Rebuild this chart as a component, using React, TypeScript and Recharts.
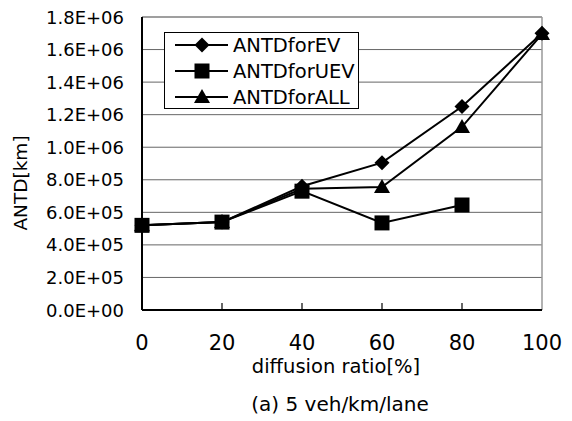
import { LineChart, Line, XAxis, YAxis, CartesianGrid, ReferenceLine } from "recharts";

const ratios = [0, 20, 40, 60, 80, 100];
const antdEV = [520000, 540000, 760000, 905000, 1250000, 1700000];
const antdUEV = [520000, 540000, 730000, 535000, 645000, null];
const antdALL = [520000, 540000, 745000, 755000, 1125000, 1695000];
const yTicks = [0, 200000, 400000, 600000, 800000, 1000000, 1200000, 1400000, 1600000, 1800000];
const xTicks = [0, 20, 40, 60, 80, 100];

const data = ratios.map((r, i) => ({
  ratio: r,
  ev: antdEV[i],
  uev: antdUEV[i],
  all: antdALL[i],
}));

const FONT = "'DejaVu Sans', sans-serif";

function fmtSci(v: number) {
  if (v === 0) return "0.0E+00";
  const e = Math.floor(Math.log10(v));
  const m = v / Math.pow(10, e);
  return `${m.toFixed(1)}E+${String(e).padStart(2, "0")}`;
}

function Diamond({ cx, cy }: any) {
  if (cx == null || cy == null) return null;
  const s = 7.5;
  return <path d={`M${cx},${cy - s} L${cx + s},${cy} L${cx},${cy + s} L${cx - s},${cy} Z`} fill="#000" />;
}

function Square({ cx, cy, value }: any) {
  if (cx == null || cy == null || value == null) return null;
  const s = 7.5;
  return <rect x={cx - s} y={cy - s} width={2 * s} height={2 * s} fill="#000" />;
}

function Triangle({ cx, cy }: any) {
  if (cx == null || cy == null) return null;
  const s = 8;
  return <path d={`M${cx},${cy - s} L${cx + s},${cy + s * 0.75} L${cx - s},${cy + s * 0.75} Z`} fill="#000" />;
}

function XTick({ x, y, payload }: any) {
  const v = payload.value;
  return (
    <g>
      {v > 0 && v < 100 && <line x1={x} x2={x} y1={y} y2={y - 7} stroke="#000" strokeWidth={1.2} />}
      <text x={x} y={y + 40} textAnchor="middle" fontSize={21} fontFamily={FONT} fill="#000">
        {v}
      </text>
    </g>
  );
}

function YTick({ x, y, payload }: any) {
  return (
    <text x={x - 18} y={y + 6.5} textAnchor="end" fontSize={18} fontFamily={FONT} fill="#000">
      {fmtSci(payload.value)}
    </text>
  );
}

function LegendBox() {
  const items = [
    { label: "ANTDforEV", Mark: Diamond },
    { label: "ANTDforUEV", Mark: Square },
    { label: "ANTDforALL", Mark: Triangle },
  ];
  return (
    <div
      style={{
        position: "absolute",
        left: 164,
        top: 32,
        width: 195,
        height: 77,
        border: "1px solid #000",
        background: "#fff",
        boxSizing: "border-box",
      }}
    >
      <svg width={195} height={77} style={{ position: "absolute", left: -1, top: -1 }}>
        {items.map((it, i) => {
          const cy = 13 + i * 26;
          return (
            <g key={it.label}>
              <line x1={11} x2={64} y1={cy} y2={cy} stroke="#000" strokeWidth={2} />
              <it.Mark cx={38} cy={cy} value={1} />
              <text x={69} y={cy + 7} fontSize={19.5} fontFamily={FONT} fill="#000">
                {it.label}
              </text>
            </g>
          );
        })}
      </svg>
    </div>
  );
}

export default function App() {
  return (
    <div style={{ position: "absolute", left: 0, top: 0, width: 572, height: 421, background: "#fff" }}>
      <LineChart width={572} height={421} data={data} margin={{ top: 17, right: 30, left: 12, bottom: 71 }}>
        <CartesianGrid horizontal vertical={false} stroke="#666" strokeWidth={1} />
        <ReferenceLine y={1800000} stroke="#999" strokeWidth={1.5} />
        <ReferenceLine x={100} stroke="#999" strokeWidth={1.5} />
        <XAxis
          dataKey="ratio"
          type="number"
          domain={[0, 100]}
          ticks={xTicks}
          height={40}
          tickLine={false}
          tickSize={0}
          tickMargin={0}
          axisLine={{ stroke: "#000", strokeWidth: 2 }}
          tick={<XTick />}
          interval={0}
        />
        <YAxis
          type="number"
          domain={[0, 1800000]}
          ticks={yTicks}
          width={130}
          tickLine={false}
          tickSize={0}
          tickMargin={0}
          axisLine={{ stroke: "#000", strokeWidth: 2 }}
          tick={<YTick />}
          interval={0}
        />
        <Line dataKey="ev" stroke="#000" strokeWidth={2} dot={<Diamond />} isAnimationActive={false} />
        <Line dataKey="all" stroke="#000" strokeWidth={2} dot={<Triangle />} isAnimationActive={false} />
        <Line dataKey="uev" stroke="#000" strokeWidth={2} dot={<Square />} isAnimationActive={false} />
      </LineChart>
      <div
        style={{
          position: "absolute",
          left: 8,
          top: 183,
          transform: "translate(-50%, -50%) rotate(-90deg)",
          transformOrigin: "center",
          marginLeft: 12,
          fontSize: 18.5,
          fontFamily: FONT,
          whiteSpace: "nowrap",
        }}
      >
        ANTD[km]
      </div>
      <div
        style={{
          position: "absolute",
          left: 0,
          width: 672,
          top: 355,
          textAlign: "center",
          fontSize: 19.5,
          fontFamily: FONT,
          lineHeight: "24px",
        }}
      >
        diffusion ratio[%]
      </div>
      <div
        style={{
          position: "absolute",
          left: 0,
          width: 680,
          top: 392,
          textAlign: "center",
          fontSize: 20,
          fontFamily: FONT,
          lineHeight: "24px",
        }}
      >
        (a) 5 veh/km/lane
      </div>
      <LegendBox />
    </div>
  );
}
